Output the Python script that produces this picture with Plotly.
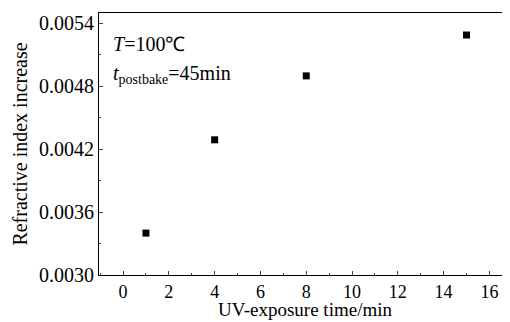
import plotly.graph_objects as go

uv_time = [1, 4, 8, 15]
ri_increase = [0.00340, 0.00429, 0.00490, 0.00529]
x_ticks = [0, 2, 4, 6, 8, 10, 12, 14, 16]
y_ticks = [0.0030, 0.0036, 0.0042, 0.0048, 0.0054]
y_tick_text = ["0.0030", "0.0036", "0.0042", "0.0048", "0.0054"]

font_family = "Liberation Serif"

fig = go.Figure()
fig.add_trace(go.Scatter(
    x=uv_time, y=ri_increase, mode="markers",
    marker=dict(symbol="square", size=7, color="black"),
    showlegend=False,
))

fig.update_layout(
    width=502, height=314,
    margin=dict(l=91, r=0, t=5, b=47),
    paper_bgcolor="white", plot_bgcolor="white",
    font=dict(family=font_family, color="black", size=20),
    xaxis=dict(
        range=[-1.05, 16.9], tickvals=x_ticks, ticks="inside", ticklen=4,
        minor=dict(ticks="inside", ticklen=2, dtick=1, tick0=0),
        showline=True, linecolor="black", linewidth=1, mirror=True,
        showgrid=False, zeroline=False,
        tickfont=dict(size=18),
    ),
    yaxis=dict(
        range=[0.0030, 0.00550], tickvals=y_ticks, ticktext=y_tick_text,
        ticks="inside", ticklen=4,
        minor=dict(ticks="inside", ticklen=2, dtick=0.0003, tick0=0.0030),
        showline=True, linecolor="black", linewidth=1, mirror=True,
        showgrid=False, zeroline=False,
        title=dict(text="Refractive index increase", font=dict(size=20), standoff=6),
        tickfont=dict(size=20),
    ),
)

fig.add_annotation(
    xref="paper", yref="paper", x=0.5, y=-0.18, xanchor="center", yanchor="bottom",
    text="UV-exposure time/min", showarrow=False, font=dict(size=19, family=font_family),
)
fig.add_annotation(
    xref="paper", yref="paper", x=0.03, y=0.88, xanchor="left", yanchor="middle",
    text="<i>T</i>=100℃", showarrow=False, font=dict(size=20, family=font_family),
)
fig.add_annotation(
    xref="paper", yref="paper", x=0.03, y=0.765, xanchor="left", yanchor="middle",
    text="<i>t</i><sub>postbake</sub>=45min", showarrow=False,
    font=dict(size=20, family=font_family),
)

fig.write_html("out.html")
